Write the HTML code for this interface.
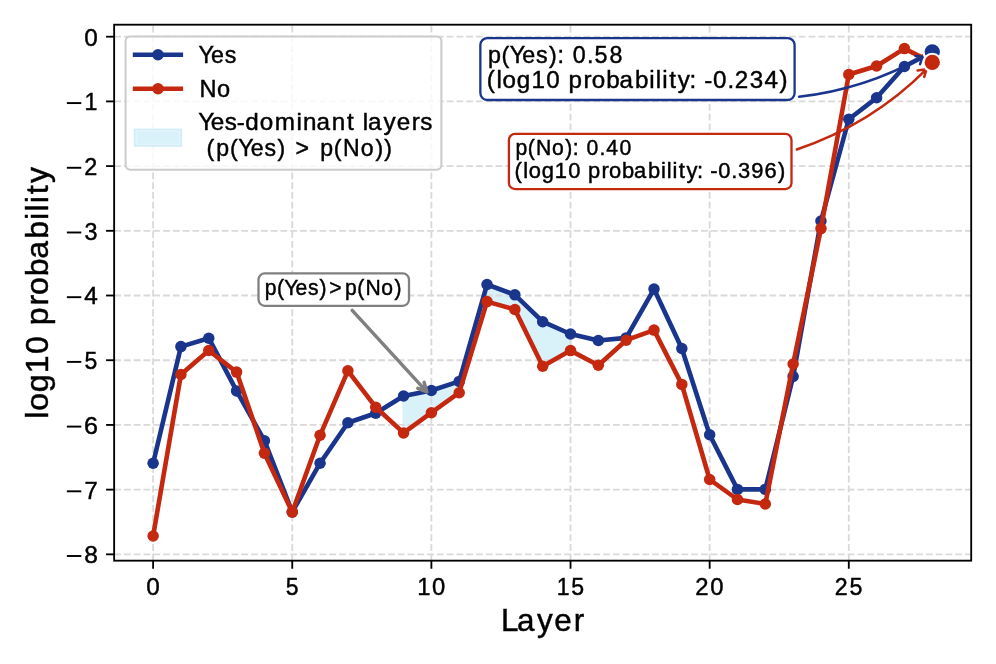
<!DOCTYPE html><html><head><meta charset="utf-8"><style>html,body{margin:0;padding:0;background:#fff;}svg{display:block;will-change:transform;}text{font-family:"Liberation Sans",sans-serif;font-kerning:none;white-space:pre;stroke:#000;stroke-width:0.45px;}</style></head><body>
<svg width="996" height="664" viewBox="0 0 996 664">
<rect width="996" height="664" fill="#fff"/>
<defs><clipPath id="ax"><rect x="114.15" y="24.7" width="857.05" height="535.97"/></clipPath></defs>
<polygon points="403.55,396 431.38,390.5 459.21,381.4 487.03,284.5 514.86,294.85 542.69,321.7 570.52,334 570.52,350.6 542.69,366.3 514.86,309.5 487.03,301.6 459.21,392.7 431.38,412.7 403.55,432.9" fill="#d9f1f9" stroke="#d9f1f9" stroke-width="2.2" stroke-linejoin="miter"/>
<g stroke="#d9d9d9" stroke-width="1.84" stroke-dasharray="6.83 2.95" fill="none" clip-path="url(#ax)"><line x1="153.11" y1="560.67" x2="153.11" y2="24.7"/><line x1="292.25" y1="560.67" x2="292.25" y2="24.7"/><line x1="431.38" y1="560.67" x2="431.38" y2="24.7"/><line x1="570.52" y1="560.67" x2="570.52" y2="24.7"/><line x1="709.65" y1="560.67" x2="709.65" y2="24.7"/><line x1="848.79" y1="560.67" x2="848.79" y2="24.7"/><line x1="114.15" y1="36.7" x2="971.2" y2="36.7"/><line x1="114.15" y1="101.41" x2="971.2" y2="101.41"/><line x1="114.15" y1="166.11" x2="971.2" y2="166.11"/><line x1="114.15" y1="230.81" x2="971.2" y2="230.81"/><line x1="114.15" y1="295.52" x2="971.2" y2="295.52"/><line x1="114.15" y1="360.22" x2="971.2" y2="360.22"/><line x1="114.15" y1="424.93" x2="971.2" y2="424.93"/><line x1="114.15" y1="489.63" x2="971.2" y2="489.63"/><line x1="114.15" y1="554.34" x2="971.2" y2="554.34"/></g>
<polyline points="153.11,463.2 180.94,346.6 208.76,338.2 236.59,390.9 264.42,440.7 292.25,512 320.07,463.2 347.9,422.7 375.73,413.3 403.55,396 431.38,390.5 459.21,381.4 487.03,284.5 514.86,294.85 542.69,321.7 570.52,334 598.34,340.5 626.17,337.9 654,289.1 681.82,348.5 709.65,434.8 737.48,489.4 765.3,489.4 793.13,376.5 820.96,221 848.79,119.25 876.61,97.8 904.44,66.55 932.27,51.84" fill="none" stroke="#1a358c" stroke-width="4.61" stroke-linejoin="round" stroke-linecap="butt"/><circle cx="153.11" cy="463.2" r="5.75" fill="#1a358c"/><circle cx="180.94" cy="346.6" r="5.75" fill="#1a358c"/><circle cx="208.76" cy="338.2" r="5.75" fill="#1a358c"/><circle cx="236.59" cy="390.9" r="5.75" fill="#1a358c"/><circle cx="264.42" cy="440.7" r="5.75" fill="#1a358c"/><circle cx="292.25" cy="512" r="5.75" fill="#1a358c"/><circle cx="320.07" cy="463.2" r="5.75" fill="#1a358c"/><circle cx="347.9" cy="422.7" r="5.75" fill="#1a358c"/><circle cx="375.73" cy="413.3" r="5.75" fill="#1a358c"/><circle cx="403.55" cy="396" r="5.75" fill="#1a358c"/><circle cx="431.38" cy="390.5" r="5.75" fill="#1a358c"/><circle cx="459.21" cy="381.4" r="5.75" fill="#1a358c"/><circle cx="487.03" cy="284.5" r="5.75" fill="#1a358c"/><circle cx="514.86" cy="294.85" r="5.75" fill="#1a358c"/><circle cx="542.69" cy="321.7" r="5.75" fill="#1a358c"/><circle cx="570.52" cy="334" r="5.75" fill="#1a358c"/><circle cx="598.34" cy="340.5" r="5.75" fill="#1a358c"/><circle cx="626.17" cy="337.9" r="5.75" fill="#1a358c"/><circle cx="654" cy="289.1" r="5.75" fill="#1a358c"/><circle cx="681.82" cy="348.5" r="5.75" fill="#1a358c"/><circle cx="709.65" cy="434.8" r="5.75" fill="#1a358c"/><circle cx="737.48" cy="489.4" r="5.75" fill="#1a358c"/><circle cx="765.3" cy="489.4" r="5.75" fill="#1a358c"/><circle cx="793.13" cy="376.5" r="5.75" fill="#1a358c"/><circle cx="820.96" cy="221" r="5.75" fill="#1a358c"/><circle cx="848.79" cy="119.25" r="5.75" fill="#1a358c"/><circle cx="876.61" cy="97.8" r="5.75" fill="#1a358c"/><circle cx="904.44" cy="66.55" r="5.75" fill="#1a358c"/>
<polyline points="153.11,536 180.94,374.5 208.76,350.45 236.59,372.1 264.42,453.3 292.25,512.1 320.07,435.3 347.9,370.8 375.73,407.2 403.55,432.9 431.38,412.7 459.21,392.7 487.03,301.6 514.86,309.5 542.69,366.3 570.52,350.6 598.34,365.3 626.17,340.2 654,330.1 681.82,384.4 709.65,479.5 737.48,499.5 765.3,504 793.13,364 820.96,228.6 848.79,74.55 876.61,66.05 904.44,48.6 932.27,62.45" fill="none" stroke="#c4280f" stroke-width="4.61" stroke-linejoin="round" stroke-linecap="butt"/><circle cx="153.11" cy="536" r="5.75" fill="#c4280f"/><circle cx="180.94" cy="374.5" r="5.75" fill="#c4280f"/><circle cx="208.76" cy="350.45" r="5.75" fill="#c4280f"/><circle cx="236.59" cy="372.1" r="5.75" fill="#c4280f"/><circle cx="264.42" cy="453.3" r="5.75" fill="#c4280f"/><circle cx="292.25" cy="512.1" r="5.75" fill="#c4280f"/><circle cx="320.07" cy="435.3" r="5.75" fill="#c4280f"/><circle cx="347.9" cy="370.8" r="5.75" fill="#c4280f"/><circle cx="375.73" cy="407.2" r="5.75" fill="#c4280f"/><circle cx="403.55" cy="432.9" r="5.75" fill="#c4280f"/><circle cx="431.38" cy="412.7" r="5.75" fill="#c4280f"/><circle cx="459.21" cy="392.7" r="5.75" fill="#c4280f"/><circle cx="487.03" cy="301.6" r="5.75" fill="#c4280f"/><circle cx="514.86" cy="309.5" r="5.75" fill="#c4280f"/><circle cx="542.69" cy="366.3" r="5.75" fill="#c4280f"/><circle cx="570.52" cy="350.6" r="5.75" fill="#c4280f"/><circle cx="598.34" cy="365.3" r="5.75" fill="#c4280f"/><circle cx="626.17" cy="340.2" r="5.75" fill="#c4280f"/><circle cx="654" cy="330.1" r="5.75" fill="#c4280f"/><circle cx="681.82" cy="384.4" r="5.75" fill="#c4280f"/><circle cx="709.65" cy="479.5" r="5.75" fill="#c4280f"/><circle cx="737.48" cy="499.5" r="5.75" fill="#c4280f"/><circle cx="765.3" cy="504" r="5.75" fill="#c4280f"/><circle cx="793.13" cy="364" r="5.75" fill="#c4280f"/><circle cx="820.96" cy="228.6" r="5.75" fill="#c4280f"/><circle cx="848.79" cy="74.55" r="5.75" fill="#c4280f"/><circle cx="876.61" cy="66.05" r="5.75" fill="#c4280f"/><circle cx="904.44" cy="48.6" r="5.75" fill="#c4280f"/>
<rect x="114.15" y="24.7" width="857.05" height="535.97" fill="none" stroke="#000" stroke-width="1.84"/>
<g stroke="#000" stroke-width="1.84"><line x1="153.11" y1="560.67" x2="153.11" y2="568.74"/><line x1="292.25" y1="560.67" x2="292.25" y2="568.74"/><line x1="431.38" y1="560.67" x2="431.38" y2="568.74"/><line x1="570.52" y1="560.67" x2="570.52" y2="568.74"/><line x1="709.65" y1="560.67" x2="709.65" y2="568.74"/><line x1="848.79" y1="560.67" x2="848.79" y2="568.74"/><line x1="106.08" y1="36.7" x2="114.15" y2="36.7"/><line x1="106.08" y1="101.41" x2="114.15" y2="101.41"/><line x1="106.08" y1="166.11" x2="114.15" y2="166.11"/><line x1="106.08" y1="230.81" x2="114.15" y2="230.81"/><line x1="106.08" y1="295.52" x2="114.15" y2="295.52"/><line x1="106.08" y1="360.22" x2="114.15" y2="360.22"/><line x1="106.08" y1="424.93" x2="114.15" y2="424.93"/><line x1="106.08" y1="489.63" x2="114.15" y2="489.63"/><line x1="106.08" y1="554.34" x2="114.15" y2="554.34"/></g>
<text x="146.46" y="594.6" font-size="24.33" fill="#000" transform="scale(0.9992,1)">0</text>
<text x="303.05" y="594.6" font-size="24.33" fill="#000" transform="scale(0.9430,1)">5</text>
<text x="426.74 441.86" y="594.6" font-size="24.33" fill="#000" transform="scale(0.9779,1)">10</text>
<text x="586.95 602.44" y="594.6" font-size="24.33" fill="#000" transform="scale(0.9484,1)">15</text>
<text x="708.41 723.67" y="594.6" font-size="24.33" fill="#000" transform="scale(0.9816,1)">20</text>
<text x="876 891.62" y="594.6" font-size="24.33" fill="#000" transform="scale(0.9528,1)">25</text>
<text x="84.37" y="45.6" font-size="24.33" fill="#000" transform="scale(0.9992,1)">0</text>
<rect x="66.85" y="102.12" width="14.44" height="1.91" fill="#000"/>
<text x="88.54" y="110.31" font-size="24.33" fill="#000" transform="scale(0.9543,1)">1</text>
<rect x="66.85" y="166.82" width="14.44" height="1.91" fill="#000"/>
<text x="87.47" y="175.01" font-size="24.33" fill="#000" transform="scale(0.9631,1)">2</text>
<rect x="66.85" y="231.53" width="14.44" height="1.91" fill="#000"/>
<text x="88.16" y="239.72" font-size="24.33" fill="#000" transform="scale(0.9596,1)">3</text>
<rect x="66.85" y="296.23" width="14.44" height="1.91" fill="#000"/>
<text x="84.36" y="304.42" font-size="24.33" fill="#000" transform="scale(0.9993,1)">4</text>
<rect x="66.85" y="360.94" width="14.44" height="1.91" fill="#000"/>
<text x="89.7" y="369.12" font-size="24.33" fill="#000" transform="scale(0.9430,1)">5</text>
<rect x="66.85" y="425.64" width="14.44" height="1.91" fill="#000"/>
<text x="81.29" y="433.83" font-size="24.33" fill="#000" transform="scale(1.0341,1)">6</text>
<rect x="66.85" y="490.35" width="14.44" height="1.91" fill="#000"/>
<text x="86.35" y="498.53" font-size="24.33" fill="#000" transform="scale(0.9774,1)">7</text>
<rect x="66.85" y="555.05" width="14.44" height="1.91" fill="#000"/>
<text x="83.39" y="563.24" font-size="24.33" fill="#000" transform="scale(1.0100,1)">8</text>
<text x="499.39 515.12 535.11 552.33 571.68" y="630.8" font-size="31.33" fill="#000" transform="scale(1.0035,1)">Layer</text>
<text x="-408.38 -400.59 -382.55 -363.97 -345.21 -326.89 -317.15 -297.99 -287.72 -269.33 -252.38 -232.85 -214.44 -206.33 -198.2 -189.37 -178.39" y="48.1" font-size="31.33" fill="#000" transform="rotate(-90) scale(1.0254,1)">log10 probability</text>
<rect x="125.6" y="36.45" width="315.8" height="133.25" rx="4.6" ry="4.6" fill="#fff" fill-opacity="0.8" stroke="#cccccc" stroke-width="2.1"/>
<line x1="132.8" y1="54.8" x2="183.1" y2="54.8" stroke="#1a358c" stroke-width="4.61"/><circle cx="158" cy="54.8" r="5.75" fill="#1a358c"/>
<line x1="132.8" y1="88.8" x2="183.1" y2="88.8" stroke="#c4280f" stroke-width="4.61"/><circle cx="158" cy="88.8" r="5.75" fill="#c4280f"/>
<rect x="133.75" y="128.6" width="48.45" height="18.2" fill="#d0edf8"/><rect x="135.5" y="130.35" width="44.95" height="14.7" fill="#e3f5fb"/><rect x="137" y="131.85" width="41.95" height="11.7" fill="#d9f1f9"/>
<text x="206.02 218.89 233.27" y="62.6" font-size="24.1" fill="#000" transform="scale(0.9640,1)">Yes</text>
<text x="203.84 221.88" y="96.6" font-size="24.1" fill="#000" transform="scale(0.9782,1)">No</text>
<text x="197.1 209.49 223.31 235.27 243.86 258.29 273.19 294.85 301.31 314.69 329.89 344.89 353.09 360.59 365.91 381.26 394.47 409.32 417.71" y="130.2" font-size="24.1" fill="#000" transform="scale(1.0059,1)">Yes-dominant layers</text>
<text x="208.16 215.41 225.82 240.07 248.7 261.64 276.1 289.52 298.1 308.31 325.91 334.19 348.44 358.05 376.42 391.77 401.15" y="156.2" font-size="24.1" fill="#000" transform="scale(0.9582,1)"> (p(Yes) &gt; p(No))</text>
<rect x="480.35" y="38.15" width="314.25" height="61.85" rx="6.9" ry="6.9" fill="#fff" stroke="#1a358c" stroke-width="2.3"/>
<text x="505.13 519.28 527.81 540.66 555.02 568.35 577.09 584.9 592.93 607.67 615.62 630.9" y="62.6" font-size="24.1" fill="#000" transform="scale(0.9659,1)">p(Yes): 0.58</text>
<text x="484.75 494.37 500.56 514.73 529.34 544.07 558.39 566.12 581.11 589.23 603.68 617 632.33 646.7 653.07 659.46 666.41 675.09 686.77 694.28 701.41 710.16 724.47 731.77 746.72 761.3 776.39" y="88.1" font-size="24.1" fill="#000" transform="scale(1.0041,1)">(log10 probability: -0.234)</text>
<rect x="508.9" y="133.8" width="282.6" height="55.3" rx="6.2" ry="6.2" fill="#fff" stroke="#c4280f" stroke-width="2.3"/>
<text x="527.89 540.51 548.93 565.18 578.79 586.57 593.52 600.63 613.78 620.9 634.42" y="155.5" font-size="21.68" fill="#000" transform="scale(0.9766,1)">p(No): 0.40</text>
<text x="509.52 518.13 523.65 536.33 549.4 562.58 575.4 582.3 595.73 602.98 615.91 627.82 641.55 654.42 660.12 665.84 672.06 679.8 690.27 696.99 703.37 711.19 724 730.82 743.8 756.94 770.45" y="178.4" font-size="21.68" fill="#000" transform="scale(1.0099,1)">(log10 probability: -0.396)</text>
<rect x="258.5" y="273.4" width="150.5" height="32.4" rx="6.2" ry="6.2" fill="#fff" stroke="#808080" stroke-width="2.3"/>
<text x="271.71 284.36 291.94 303.42 316.24 328.15 337.96 354.09 366.74 375.19 391.48 405.12" y="295" font-size="21.68" fill="#000" transform="scale(0.9740,1)">p(Yes)&gt;p(No)</text>
<path d="M352.2,310.4 L426.9,391.9 M424.1,382.3 L426.9,391.9 L417.8,388.4" fill="none" stroke="#808080" stroke-width="3.46" stroke-linecap="round" stroke-linejoin="round"/>
<path d="M799.0,96.7 Q864.6,89.3 922.7,56.8 M915.5,55.9 L922.7,56.7 L920.1,64.2" fill="none" stroke="#1a358c" stroke-width="2.5" stroke-linecap="round" stroke-linejoin="round"/>
<path d="M796.8,149.5 Q871.3,124.6 926.6,69.2 M917.5,70.4 L926.6,69.2 L924.2,76.9" fill="none" stroke="#c4280f" stroke-width="2.5" stroke-linecap="round" stroke-linejoin="round"/>
<circle cx="932.27" cy="51.84" r="9.8" fill="#fff"/><circle cx="932.27" cy="51.84" r="7.65" fill="#1a358c"/>
<circle cx="932.27" cy="62.45" r="9.8" fill="#fff"/><circle cx="932.27" cy="62.45" r="7.65" fill="#c4280f"/>
</svg></body></html>
